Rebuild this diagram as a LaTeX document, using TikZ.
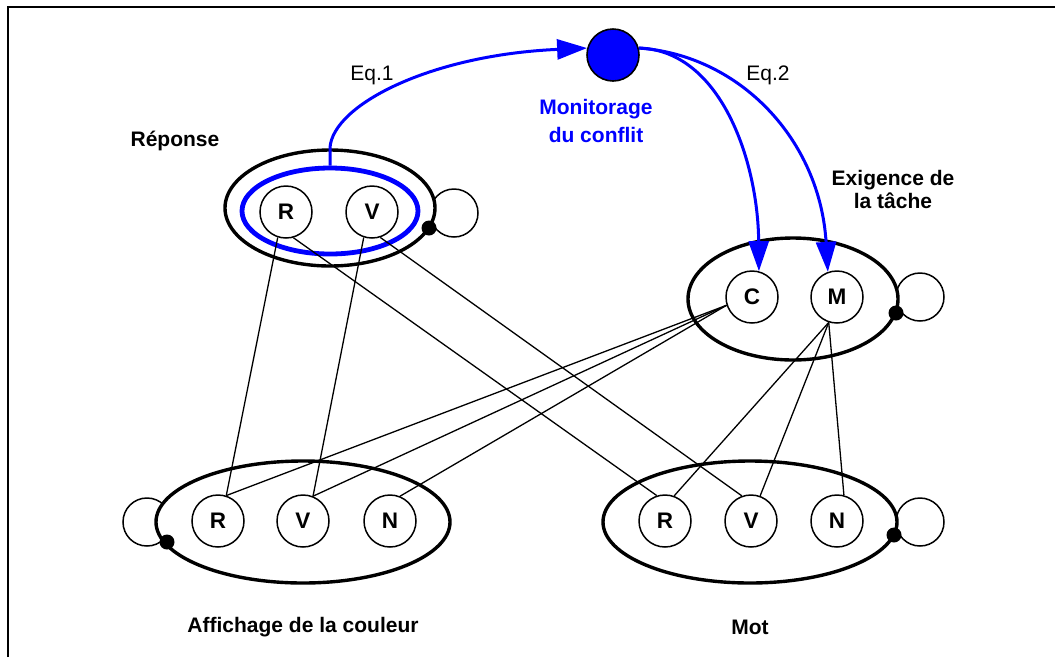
\documentclass[tikz,border=0pt]{standalone}
\usepackage{fontspec}
\setmainfont{Liberation Sans}
\usetikzlibrary{shapes.geometric,arrows.meta}
\definecolor{pblue}{RGB}{0,0,255}
\begin{document}
\begin{tikzpicture}[x=1pt,y=-1pt,
 ell/.style={draw, ellipse, line width=3.4pt, fill=white, inner sep=0pt},
 unit/.style={draw, circle, line width=1.5pt, fill=white, minimum size=52pt, inner sep=0pt, font=\fontsize{22.5}{26}\selectfont\bfseries},
 loopc/.style={draw, circle, line width=1.5pt, minimum size=48pt, inner sep=0pt},
 dotc/.style={circle, fill=black, minimum size=15pt, inner sep=0pt},
 lbl/.style={font=\fontsize{21}{24}\selectfont\bfseries, align=center},
 eqlbl/.style={font=\fontsize{21}{25}\selectfont},
 link/.style={line width=1.3pt},
 barrow/.style={draw=pblue, line width=3pt, -{Triangle[length=30pt,width=20pt]}}
]
\useasboundingbox (0,0) rectangle (1055,657);
\draw[line width=2.2pt] (8,657) -- (8,7) -- (1055,7);

% loops
\node[loopc] (rloop) at (454,213) {};
\node[loopc] (tloop) at (920,297) {};
\node[loopc] (aloop) at (147,522) {};
\node[loopc] (mloop) at (920,522) {};

% ellipses
\node[ell, minimum width=210pt, minimum height=116pt] (resp) at (330,208) {};
\node[draw=pblue, ellipse, line width=4.8pt, inner sep=0pt, minimum width=176pt, minimum height=86pt] (respblue) at (330,211) {};
\node[ell, minimum width=210pt, minimum height=122pt] (task) at (793,299) {};
\node[ell, minimum width=294pt, minimum height=122pt] (aff) at (303,522) {};
\node[ell, minimum width=294pt, minimum height=122pt] (mot) at (750,522) {};

% units
\node[unit] (rR) at (286,212) {R};
\node[unit] (rV) at (372,212) {V};
\node[unit] (C) at (752,297) {C};
\node[unit] (M) at (837,297) {M};
\node[unit] (aR) at (218,521) {R};
\node[unit] (aV) at (303,521) {V};
\node[unit] (aN) at (390,521) {N};
\node[unit] (mR) at (665,521) {R};
\node[unit] (mV) at (751,521) {V};
\node[unit] (mN) at (837,521) {N};

% dots
\node[dotc] (rdot) at (429,228) {};
\node[dotc] (tdot) at (896,313) {};
\node[dotc] (adot) at (167,542) {};
\node[dotc] (mdot) at (894,535) {};

% monitor
\node[circle, draw, fill=pblue, line width=1.6pt, minimum size=52pt, inner sep=0pt] (mon) at (613,55) {};

% labels
\node[lbl] (lresp) at (175,141) {Réponse};
\node[lbl, text=pblue, font=\fontsize{21}{28}\selectfont\bfseries] (lmon) at (596,121) {Monitorage\\du conflit};
\node[lbl, font=\fontsize{21}{23}\selectfont\bfseries] (ltask) at (893,189) {Exigence de\\la tâche};
\node[lbl] (laff) at (303,627) {Affichage de la couleur};
\node[lbl] (lmot) at (750,627) {Mot};
\node[eqlbl] (eq1) at (372,75) {Eq.1};
\node[eqlbl] (eq2) at (768,75) {Eq.2};

% links
\draw[link] (rR.252) -- (aR.72);
\draw[link] (rR.286) -- (mR.108);
\draw[link] (rV.252) -- (aV.68);
\draw[link] (rV.288) -- (mV.110);
\draw[link] (C.198) -- (aR.72);
\draw[link] (C.198) -- (aV.68);
\draw[link] (C.198) -- (aN.68);
\draw[link] (M.252) -- (mR.70);
\draw[link] (M.252) -- (mV.70);
\draw[link] (M.252) -- (mN.75);

% blue arrows
\draw[barrow] (respblue.north) -- ++(0,-18) .. controls (333,105) and (430,55) .. (mon.165);
\draw[barrow] (mon.15) .. controls (720,50) and (758,160) .. (C.75);
\draw[barrow] (mon.15) .. controls (740,55) and (820,140) .. (M.110);
\end{tikzpicture}
\end{document}
